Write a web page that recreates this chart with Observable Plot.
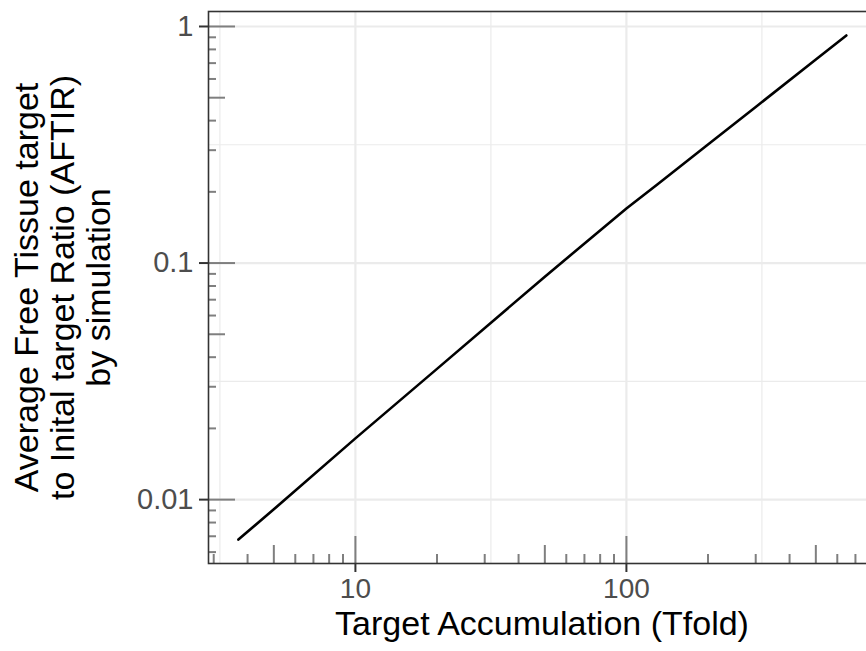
<!DOCTYPE html>
<html>
<head>
<meta charset="utf-8">
<script src="https://cdn.jsdelivr.net/npm/d3@7"></script>
<script src="https://cdn.jsdelivr.net/npm/@observablehq/plot@0.6"></script>
<style>
  html, body { margin: 0; padding: 0; background: #ffffff; }
  #chart svg { display: block; }
</style>
</head>
<body>
<div id="chart"></div>
<script>
// Simulated curve: Target accumulation (Tfold) vs AFTIR
const tfold = [3.7, 5, 10, 20, 50, 100, 130, 200, 300, 500, 648];
const aftir = [0.00678, 0.0091, 0.01815, 0.0357, 0.0876, 0.170, 0.215, 0.317, 0.457, 0.725, 0.916];

// Axis labels / breaks
const xBreaks = [10, 100];
const xBreakLabels = ["10", "100"];
const yBreaks = [0.01, 0.1, 1];
const yBreakLabels = ["0.01", "0.1", "1"];
const xMinorGrid = [3.1623, 31.623, 316.23];
const yMinorGrid = [0.031623, 0.31623];

// Log ticks (annotation_logticks style)
const xLogShort = [3, 4, 6, 7, 8, 9, 20, 30, 40, 60, 70, 80, 90, 200, 300, 400, 600, 700];
const xLogMid = [5, 50, 500];
const xLogLong = [10, 100];
const yLogShort = [0.006, 0.007, 0.008, 0.009, 0.02, 0.03, 0.04, 0.06, 0.07, 0.08, 0.09, 0.2, 0.3, 0.4, 0.6, 0.7, 0.8, 0.9];
const yLogMid = [0.05, 0.5];
const yLogLong = [0.01, 0.1, 1];

const xTitle = "Target Accumulation (Tfold)";
const yTitle = "Average Free Tissue target\nto Inital target Ratio (AFTIR)\nby simulation";

const data = tfold.map((t, i) => ({tfold: t, aftir: aftir[i]}));

const W = 866, H = 651;
const mL = 208, mR = 0, mT = 11, mB = 88;
const frameH = H - mT - mB;
const frameW = W - mL - mR;
const gridCol = "#EBEBEB";
const logCol = "#7F7F7F";
const axisCol = "#333333";
const textCol = "#4D4D4D";
const font = "'Liberation Sans', Arial, Helvetica, sans-serif";

const xTick = (vals, len) => Plot.ruleX(vals, {stroke: logCol, strokeWidth: 2, insetTop: frameH - len});
const yTick = (vals, len) => Plot.ruleY(vals, {stroke: logCol, strokeWidth: 2, insetRight: frameW - len});

const chart = Plot.plot({
  width: W,
  height: H,
  marginLeft: mL,
  marginRight: mR,
  marginTop: mT,
  marginBottom: mB,
  style: {background: "#ffffff", fontFamily: font, overflow: "hidden"},
  x: {type: "log", domain: [2.87, 769]},
  y: {type: "log", domain: [0.00537, 1.157]},
  marks: [
    Plot.ruleX(xMinorGrid, {stroke: gridCol, strokeWidth: 1.2}),
    Plot.ruleY(yMinorGrid, {stroke: gridCol, strokeWidth: 1.2}),
    Plot.ruleX(xBreaks, {stroke: gridCol, strokeWidth: 2.2}),
    Plot.ruleY(yBreaks, {stroke: gridCol, strokeWidth: 2.2}),
    xTick(xLogShort, 9), xTick(xLogMid, 18), xTick(xLogLong, 27),
    yTick(yLogShort, 8), yTick(yLogMid, 17), yTick(yLogLong, 27),
    Plot.line(data, {x: "tfold", y: "aftir", stroke: "#000000", strokeWidth: 2.6}),
    Plot.frame({stroke: axisCol, strokeWidth: 1.6, insetRight: -4}),
    Plot.axisX({ticks: xBreaks, tickFormat: (d) => xBreakLabels[xBreaks.indexOf(d)], tickSize: 9, tickPadding: 6,
      stroke: axisCol, strokeWidth: 2, fill: textCol, fontSize: 28, label: null}),
    Plot.axisY({ticks: yBreaks, tickFormat: (d) => yBreakLabels[yBreaks.indexOf(d)], tickSize: 9, tickPadding: 6,
      stroke: axisCol, strokeWidth: 2, fill: textCol, fontSize: 29, label: null}),
    Plot.text([xTitle], {frameAnchor: "bottom", dy: 61, dx: 4.5, fill: "#000000", fontSize: 34, lineAnchor: "middle", textAnchor: "middle"}),
    Plot.text([yTitle], {frameAnchor: "left", dx: -146, rotate: -90, fill: "#000000", fontSize: 34, lineHeight: 1.05, lineAnchor: "middle", textAnchor: "middle"})
  ]
});
document.getElementById("chart").appendChild(chart);
</script>
</body>
</html>
